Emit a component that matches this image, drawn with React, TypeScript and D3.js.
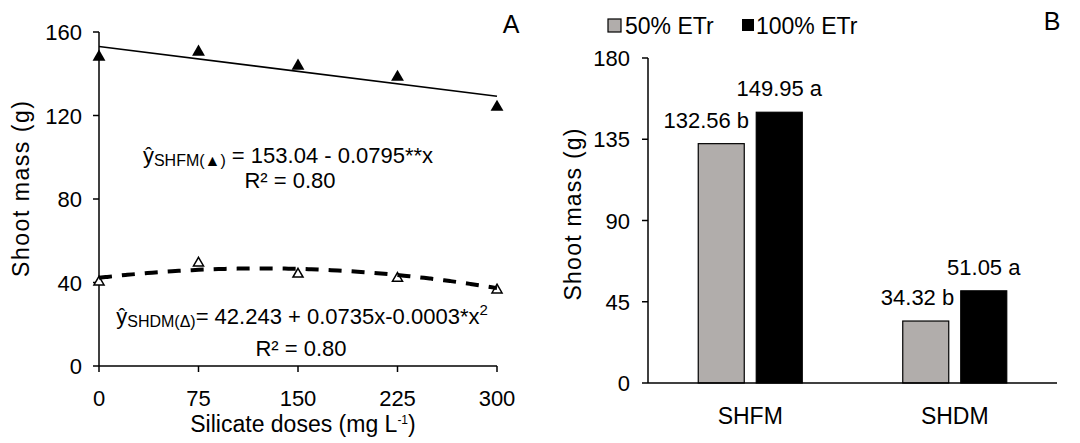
import React from 'react';
import * as d3 from 'd3';

// Panel A: silicate doses vs shoot mass
const doses = [0, 75, 150, 225, 300];
const shfm = [148, 150.4, 143.7, 138.4, 124];
const shdm = [40.2, 49.3, 44, 42, 36.4];
const shfmCoef = [153.04, -0.0795];
const shdmCoef = [42.243, 0.0735, -0.0003];
const yTicksA = [0, 40, 80, 120, 160];

// Panel B: irrigation levels
const groups = ['SHFM', 'SHDM'];
const series = ['50% ETr', '100% ETr'];
const seriesValues = [
  [132.56, 34.32],
  [149.95, 51.05],
];
const seriesLetters = [
  ['b', 'b'],
  ['a', 'a'],
];
const yTicksB = [0, 45, 90, 135, 180];

const FONT = '"Liberation Sans", Arial, sans-serif';
const GRAY = '#b1adab';
const TICK_FS = 22;
const TITLE_FS = 23;

const App = () => {
  // ---- panel A scales
  const xA = d3.scaleLinear().domain([0, 300]).range([99, 497]);
  const yA = d3.scaleLinear().domain([0, 160]).range([366, 32]);

  const lin = (x: number) => shfmCoef[0] + shfmCoef[1] * x;
  const quad = (x: number) => shdmCoef[0] + shdmCoef[1] * x + shdmCoef[2] * x * x;
  const fitX = d3.range(0, 301, 5);
  const linePath = d3
    .line<number>()
    .x((d) => xA(d))
    .y((d) => yA(lin(d)))([0, 300]);
  const quadPath = d3
    .line<number>()
    .x((d) => xA(d))
    .y((d) => yA(quad(d)))
    .curve(d3.curveMonotoneX)(fitX);

  const triFilled = d3.symbol(d3.symbolTriangle, 72)()!;
  const triOpen = d3.symbol(d3.symbolTriangle, 44)()!;

  // ---- panel B scales
  const xB = d3.scaleBand().domain(groups).range([648, 1057]);
  const yB = d3.scaleLinear().domain([0, 180]).range([383, 58]);
  const barW = 46;
  const barGap = 12;
  const colors = [GRAY, '#000'];
  const labelShift = [-15, 0];

  return (
    <svg
      width={1080}
      height={443}
      style={{ position: 'absolute', left: 0, top: 0, background: '#fff' }}
      fontFamily={FONT}
    >
      {/* ===== Panel A ===== */}
      <g>
        <line x1={xA(0)} x2={xA(0)} y1={yA(160)} y2={yA(0)} stroke="#000" strokeWidth={1.5} />
        <line x1={xA(0)} x2={xA(300)} y1={yA(0)} y2={yA(0)} stroke="#000" strokeWidth={1.5} />
        {yTicksA.map((t) => (
          <g key={t}>
            <line x1={xA(0) - 6} x2={xA(0)} y1={yA(t)} y2={yA(t)} stroke="#000" strokeWidth={1.5} />
            <text x={82} y={yA(t) + 8} textAnchor="end" fontSize={TICK_FS}>
              {t}
            </text>
          </g>
        ))}
        {doses.map((t) => (
          <g key={t}>
            <line x1={xA(t)} x2={xA(t)} y1={yA(0)} y2={yA(0) + 6} stroke="#000" strokeWidth={1.5} />
            <text x={xA(t)} y={406} textAnchor="middle" fontSize={TICK_FS}>
              {t}
            </text>
          </g>
        ))}
        <text x={303} y={432} textAnchor="middle" fontSize={TITLE_FS}>
          Silicate doses (mg L
          <tspan fontSize={12} dy={-8}>
            -1
          </tspan>
          <tspan dy={8}>)</tspan>
        </text>
        <text
          transform={`translate(29,${(yA(0) + yA(160)) / 2 - 10}) rotate(-90)`}
          textAnchor="middle"
          fontSize={TITLE_FS}
          textLength={176}
          lengthAdjust="spacing"
        >
          Shoot mass (g)
        </text>
        <text x={511} y={33} textAnchor="middle" fontSize={25}>
          A
        </text>

        {/* markers */}
        {doses.map((d, i) => (
          <path key={'f' + i} d={triFilled} transform={`translate(${xA(d)},${yA(shfm[i])})`} fill="#000" />
        ))}
        {doses.map((d, i) => (
          <path
            key={'o' + i}
            d={triOpen}
            transform={`translate(${xA(d)},${yA(shdm[i])})`}
            fill="#fff"
            stroke="#000"
            strokeWidth={1.5}
          />
        ))}

        {/* fitted lines */}
        <path d={linePath!} fill="none" stroke="#000" strokeWidth={1.6} />
        <path d={quadPath!} fill="none" stroke="#000" strokeWidth={4} strokeDasharray="13 10" />

        {/* equations */}
        <text x={288} y={163} textAnchor="middle" fontSize={TICK_FS}>
          ŷ
          <tspan fontSize={16} dy={3}>
            SHFM(▲)
          </tspan>
          <tspan dy={-3}> = 153.04 - 0.0795**x</tspan>
        </text>
        <text x={290} y={188} textAnchor="middle" fontSize={TICK_FS}>
          R² = 0.80
        </text>
        <text x={302} y={324} textAnchor="middle" fontSize={TICK_FS}>
          ŷ
          <tspan fontSize={16} dy={3}>
            SHDM(Δ)
          </tspan>
          <tspan dy={-3}>= 42.243 + 0.0735x-0.0003*x</tspan>
          <tspan fontSize={15} dy={-9}>
            2
          </tspan>
        </text>
        <text x={301} y={356} textAnchor="middle" fontSize={TICK_FS}>
          R² = 0.80
        </text>
      </g>

      {/* ===== Panel B ===== */}
      <g>
        {groups.map((g, gi) => {
          const c = xB(g)! + xB.bandwidth() / 2;
          return series.map((s, si) => {
            const v = seriesValues[si][gi];
            const x0 = si === 0 ? c - barGap / 2 - barW : c + barGap / 2;
            return (
              <g key={g + s}>
                <rect
                  x={x0}
                  y={yB(v)}
                  width={barW}
                  height={yB(0) - yB(v)}
                  fill={colors[si]}
                  stroke="#000"
                  strokeWidth={1.2}
                />
                <text
                  x={x0 + barW / 2 + labelShift[si] * (gi === 0 ? 1 : 0.55)}
                  y={yB(v) - 16}
                  textAnchor="middle"
                  fontSize={TICK_FS}
                >
                  {`${v.toFixed(2)} ${seriesLetters[si][gi]}`}
                </text>
              </g>
            );
          });
        })}
        <line x1={648} x2={648} y1={yB(180)} y2={yB(0)} stroke="#000" strokeWidth={1.5} />
        <line x1={648} x2={1057} y1={yB(0)} y2={yB(0)} stroke="#000" strokeWidth={1.5} />
        {yTicksB.map((t) => (
          <g key={t}>
            <line x1={642} x2={648} y1={yB(t)} y2={yB(t)} stroke="#000" strokeWidth={1.5} />
            <text x={630} y={yB(t) + 8} textAnchor="end" fontSize={TICK_FS}>
              {t}
            </text>
          </g>
        ))}
        {groups.map((g) => (
          <text key={g} x={xB(g)! + xB.bandwidth() / 2} y={424} textAnchor="middle" fontSize={TITLE_FS}>
            {g}
          </text>
        ))}
        <text
          transform={`translate(581,${(yB(0) + yB(180)) / 2 - 6}) rotate(-90)`}
          textAnchor="middle"
          fontSize={TITLE_FS}
          textLength={172}
          lengthAdjust="spacing"
        >
          Shoot mass (g)
        </text>
        <text x={1052} y={30} textAnchor="middle" fontSize={25}>
          B
        </text>

        {/* legend */}
        <rect x={608} y={19} width={13} height={13} fill={GRAY} stroke="#000" strokeWidth={1.2} />
        <text x={625} y={34} fontSize={TITLE_FS}>
          {series[0]}
        </text>
        <rect x={742} y={19} width={12} height={12} fill="#000" />
        <text x={756} y={34} fontSize={TITLE_FS}>
          {series[1]}
        </text>
      </g>
    </svg>
  );
};

export default App;
